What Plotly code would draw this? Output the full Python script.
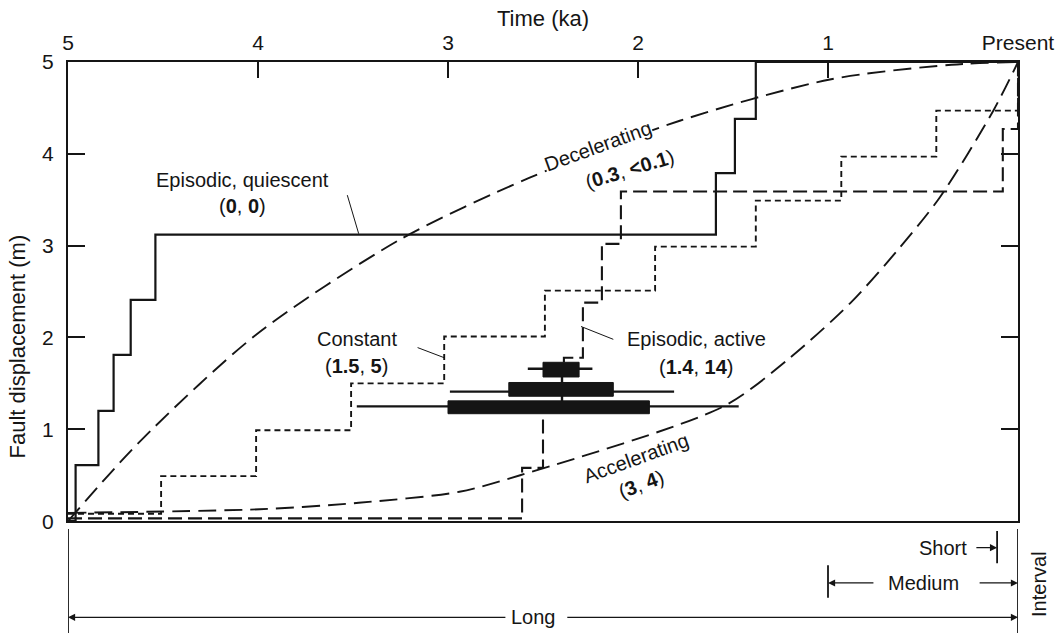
import plotly.graph_objects as go

# ---------------- data (time in ka before present, displacement in m) -------------
quiescent_t = [5.0, 4.96, 4.96, 4.84, 4.84, 4.76, 4.76, 4.67, 4.67, 4.54, 4.54, 1.59, 1.59, 1.49, 1.49, 1.38, 1.38, 0.0]
quiescent_d = [0.0, 0.0, 0.61, 0.61, 1.20, 1.20, 1.81, 1.81, 2.41, 2.41, 3.12, 3.12, 3.79, 3.79, 4.38, 4.38, 5.0, 5.0]

constant_t = [5.0, 4.51, 4.51, 4.01, 4.01, 3.51, 3.51, 3.02, 3.02, 2.49, 2.49, 1.91, 1.91, 1.38, 1.38, 0.93, 0.93, 0.43, 0.43, 0.0, 0.0]
constant_d = [0.08, 0.08, 0.49, 0.49, 0.99, 0.99, 1.50, 1.50, 2.01, 2.01, 2.51, 2.51, 2.99, 2.99, 3.49, 3.49, 3.97, 3.97, 4.47, 4.47, 5.0]

active_t = [5.0, 2.61, 2.61, 2.50, 2.50, None, 2.39, 2.39, 2.29, 2.29, 2.19, 2.19, 2.09, 2.09, 0.08, 0.08, 0.0, 0.0]
active_d = [0.03, 0.03, 0.58, 0.58, 1.17, None, 1.73, 1.78, 1.78, 2.38, 2.38, 3.02, 3.02, 3.59, 3.59, 4.27, 4.27, 5.0]

decel_t = [5.0, 4.63, 4.01, 3.25, 2.57, 1.78, 0.99, 0.35, 0.0]
decel_d = [0.0, 0.85, 2.03, 3.07, 3.74, 4.36, 4.81, 4.97, 5.0]

accel_t = [5.0, 3.99, 3.47, 2.94, 2.62, 1.55, 1.20, 0.88, 0.63, 0.41, 0.13, 0.0]
accel_d = [0.09, 0.13, 0.20, 0.32, 0.50, 1.25, 1.78, 2.38, 2.96, 3.53, 4.47, 5.0]

# dated events (boxes with age ranges)
box_age_old = [2.50, 2.68, 3.00]
box_age_young = [2.31, 2.13, 1.94]
box_disp_top = [1.73, 1.51, 1.31]
box_disp_bot = [1.57, 1.36, 1.17]
range_age_old = [2.58, 2.99, 3.48]
range_age_young = [2.24, 1.81, 1.47]
range_disp = [1.66, 1.41, 1.25]
connector_t = 2.40

# observation intervals (ka before present)
interval_names = ["Short", "Medium", "Long"]
interval_start = [0.11, 1.0, 5.0]

x_tickvals = [5, 4, 3, 2, 1, 0]
x_ticktext = ["5", "4", "3", "2", "1", "Present"]
y_tickvals = [0, 1, 2, 3, 4, 5]

# ---------------- figure ----------------
INK = "#151515"
FONT = "Liberation Sans, Arial, Helvetica, sans-serif"
W, H = 1058, 644
ML, MR, MT = 68, 40, 62
PLOT_BOTTOM_PX = 530
paper_h = H - MT
paper_w = W - ML - MR


def py(ypx):
    return (H - ypx) / paper_h


def px(xpx):
    return (xpx - ML) / paper_w


fig = go.Figure()

fig.add_trace(go.Scatter(x=quiescent_t, y=quiescent_d, mode="lines",
                         line=dict(color=INK, width=2.2), hoverinfo="skip"))
fig.add_trace(go.Scatter(x=constant_t, y=constant_d, mode="lines",
                         line=dict(color=INK, width=1.9, dash="6px,4px"), hoverinfo="skip"))
fig.add_trace(go.Scatter(x=active_t, y=active_d, mode="lines", connectgaps=False,
                         line=dict(color=INK, width=2.1, dash="14px,6px"), hoverinfo="skip"))
fig.add_trace(go.Scatter(x=decel_t, y=decel_d, mode="lines", line_shape="spline",
                         line=dict(color=INK, width=1.9, dash="18px,8px", smoothing=0.8),
                         hoverinfo="skip"))
fig.add_trace(go.Scatter(x=accel_t, y=accel_d, mode="lines", line_shape="spline",
                         line=dict(color=INK, width=1.9, dash="18px,8px", smoothing=0.8),
                         hoverinfo="skip"))

# age-range whiskers
wx, wy = [], []
for a, b, d in zip(range_age_old, range_age_young, range_disp):
    wx += [a, b, None]
    wy += [d, d, None]
wx += [connector_t, connector_t]
wy += [box_disp_bot[0], range_disp[-1]]
fig.add_trace(go.Scatter(x=wx, y=wy, mode="lines", line=dict(color=INK, width=2.4),
                         hoverinfo="skip"))

shapes = []
for a, b, top, bot in zip(box_age_old, box_age_young, box_disp_top, box_disp_bot):
    shapes.append(dict(type="rect", xref="x", yref="y", x0=a, x1=b, y0=bot, y1=top,
                       fillcolor=INK, line=dict(color=INK, width=1)))

# leader lines
leaders = [((3.53, 3.55), (3.47, 3.13)),
           ((3.16, 1.89), (3.02, 1.78)),
           ((2.30, 2.12), (2.13, 1.98))]
for (x0, y0), (x1, y1) in leaders:
    shapes.append(dict(type="line", xref="x", yref="y", x0=x0, y0=y0, x1=x1, y1=y1,
                       line=dict(color=INK, width=1)))

# bottom interval panel
for xv in [5.0, 0.0]:
    shapes.append(dict(type="line", xref="x", yref="paper", x0=xv, x1=xv,
                       y0=py(538), y1=0, line=dict(color=INK, width=1.8)))
short_start, medium_start, long_start = interval_start
shapes.append(dict(type="line", xref="x", yref="paper", x0=short_start, x1=short_start,
                   y0=py(540), y1=py(573), line=dict(color=INK, width=1.8)))
shapes.append(dict(type="line", xref="x", yref="paper", x0=medium_start, x1=medium_start,
                   y0=py(575), y1=py(608), line=dict(color=INK, width=1.8)))

annotations = []


def arrow(tip, tail, ypx):
    annotations.append(dict(x=tip, y=py(ypx), xref="x", yref="paper", ax=tail, ay=0,
                            axref="x", ayref="pixel", showarrow=True, arrowhead=2,
                            arrowsize=1.1, arrowwidth=1.3, arrowcolor=INK, text="",
                            standoff=0, startstandoff=0))


arrow(short_start, 0.227, 557)
arrow(medium_start, 0.753, 593)
arrow(0.0, 0.21, 593)
arrow(long_start, 2.69, 628)
arrow(0.0, 2.38, 628)

LS = 20
base_font = dict(family=FONT, size=LS, color=INK)


def lab(x, y, text, angle=0, xref="x", yref="y", xanchor="center", font=None, bg=None):
    a = dict(x=x, y=y, xref=xref, yref=yref, text=text, textangle=angle,
             xanchor=xanchor, yanchor="middle", showarrow=False,
             font=font or base_font, borderpad=0)
    if bg:
        a["bgcolor"] = bg
    annotations.append(a)


lab(0.263, py(557), interval_names[0], yref="paper", xanchor="right")
lab(0.50, py(593), interval_names[1], yref="paper")
lab(2.55, py(628), interval_names[2], yref="paper")
lab(px(1039), py(594), "Interval", angle=-90, xref="paper", yref="paper")
# axis titles
lab(px(543), py(18), "Time (ka)", xref="paper", yref="paper",
    font=dict(family=FONT, size=22, color=INK))
lab(px(18), py(352), "Fault displacement (m)", angle=-90, xref="paper", yref="paper",
    font=dict(family=FONT, size=22, color=INK))
# curve labels
lab(4.08, 3.71, "Episodic, quiescent")
lab(4.08, 3.43, "(<b>0</b>, <b>0</b>)")
lab(2.21, 4.08, "Decelerating", angle=-20, bg="white")
lab(2.04, 3.83, "(<b>0.3</b>, <b>&lt;0.1</b>)", angle=-17)
lab(3.48, 1.98, "Constant")
lab(3.48, 1.69, "(<b>1.5</b>, <b>5</b>)")
lab(1.69, 1.98, "Episodic, active")
lab(1.69, 1.68, "(<b>1.4</b>, <b>14</b>)")
lab(2.01, 0.69, "Accelerating", angle=-20, bg="white")
lab(1.98, 0.40, "(<b>3</b>, <b>4</b>)", angle=-20)

fig.update_layout(
    width=W, height=H,
    margin=dict(l=ML, r=MR, t=MT, b=0),
    paper_bgcolor="white", plot_bgcolor="white",
    showlegend=False,
    font=dict(family=FONT, size=LS, color=INK),
    shapes=shapes, annotations=annotations,
    xaxis=dict(range=[5, 0], side="top", tickvals=x_tickvals, ticktext=x_ticktext,
               ticks="inside", ticklen=16, tickwidth=1.8, tickcolor=INK,
               showline=True, linewidth=2, linecolor=INK, mirror=True,
               showgrid=False, zeroline=False, ticklabelstandoff=2,
               tickfont=dict(family=FONT, size=21, color=INK)),
    yaxis=dict(range=[0, 5], domain=[(H - PLOT_BOTTOM_PX) / paper_h, 1],
               tickvals=y_tickvals, ticks="inside", ticklen=17, tickwidth=1.8,
               tickcolor=INK, showline=True, linewidth=2, linecolor=INK,
               mirror="ticks", showgrid=False, zeroline=False, ticklabelstandoff=8,
               tickfont=dict(family=FONT, size=21, color=INK)),
)

fig.write_html("out.html")
